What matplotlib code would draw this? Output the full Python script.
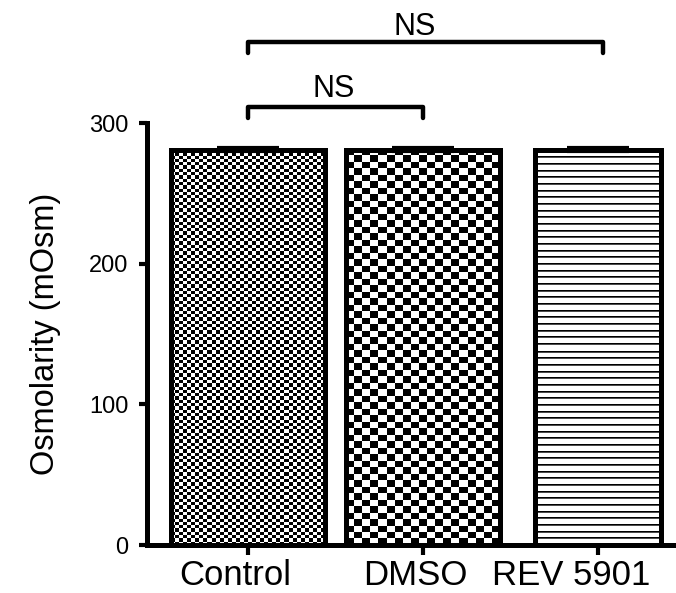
import numpy as np
import matplotlib
matplotlib.use("Agg")
import matplotlib.pyplot as plt
from matplotlib.transforms import ScaledTranslation

plt.rcParams['font.family'] = ['Liberation Sans', 'DejaVu Sans']

groups = ['Control', 'DMSO', 'REV 5901']
osm = [281, 281, 281]
sem = [1.0, 1.0, 1.0]
widths = [0.88, 0.88, 0.72]
# cell size of fill pattern (px): (cols, rows)
cells = [(4, 3.3), (8, 6.5), None]
line_gap = 6.67

fig = plt.figure(figsize=(6.76, 5.93), dpi=100)
ax = fig.add_axes([147/676, 48/593, 529/676, 422/593])
ax.set_xlim(-0.577, 2.446)
ax.set_ylim(0, 300)

x = np.arange(len(groups))
bars = ax.bar(x, osm, width=widths, facecolor='none', edgecolor='black',
              linewidth=3.6, zorder=3)

# pixel scale of the axes
xpp = (ax.get_xlim()[1] - ax.get_xlim()[0]) / 529
ypp = 300 / 422

for b, c in zip(bars, cells):
    x0, w, h = b.get_x(), b.get_width(), b.get_height()
    if c is not None:
        nc = int(round(w / xpp / c[0]))
        nr = int(round(h / ypp / c[1]))
        pat = (np.add.outer(np.arange(nr), np.arange(nc)) % 2).astype(float)
    else:
        # one image row per screen pixel, thin dark lines every line_gap px
        nr = int(round(h / ypp))
        ph = np.arange(nr) % line_gap
        pat = np.ones((nr, 1))
        pat[ph < 1] = 0.0
        pat[(ph >= 1) & (ph < 2)] = 0.3
    im = ax.imshow(pat, extent=(x0, x0 + w, 0, h), cmap='gray', vmin=0, vmax=1,
                   interpolation='nearest', aspect='auto', zorder=2)
    im.set_clip_path(b)

ax.errorbar(x, osm, yerr=sem, fmt='none', ecolor='black',
            capsize=22, capthick=3, elinewidth=3, zorder=4)
ax.set_xlim(-0.577, 2.446)
ax.set_ylim(0, 300)

ax.set_xticks(x)
ax.set_xticklabels(groups, fontsize=25)
ax.set_yticks([0, 100, 200, 300])
ax.tick_params(axis='y', labelsize=17, width=3, length=6, pad=7.5)
ax.tick_params(axis='x', width=3, length=7, pad=3)
ax.set_ylabel('Osmolarity (mOsm)', fontsize=23.5, labelpad=20)

# labels sit a little left of their ticks
for lab, dx in zip(ax.get_xticklabels(), [-13, -8, -27]):
    lab.set_transform(lab.get_transform() +
                      ScaledTranslation(dx / 100, 0, fig.dpi_scale_trans))

for s in ['top', 'right']:
    ax.spines[s].set_visible(False)
for s in ['left', 'bottom']:
    ax.spines[s].set_linewidth(3.6)

# significance brackets
def bracket(x1, x2, y, drop, label, tx, ty):
    ax.plot([x1, x1, x2, x2], [y - drop, y, y, y - drop], color='black',
            lw=3.2, clip_on=False, solid_capstyle='round', zorder=5)
    ax.text(tx, ty, label, ha='center', va='center',
            fontsize=22, clip_on=False)

bracket(0, 1, 311.4, 7.8, 'NS', 0.49, 324.5)
bracket(0, 2.03, 357.6, 7.8, 'NS', 0.95, 368)

fig.savefig('out.png', dpi=100)
